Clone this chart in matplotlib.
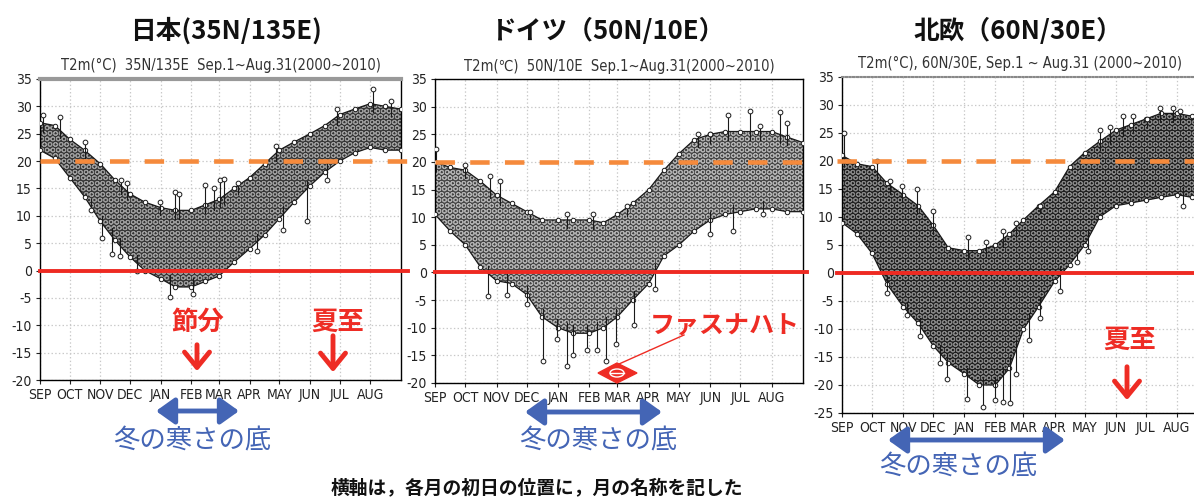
import numpy as np
import matplotlib
matplotlib.use('Agg')
import matplotlib.pyplot as plt
from matplotlib.patches import Polygon, Ellipse

plt.rcParams['font.family'] = ['Noto Sans CJK JP', 'DejaVu Sans']
plt.rcParams['lines.scale_dashes'] = False
plt.rcParams['hatch.linewidth'] = 0.7

NARROW = dict(family='DejaVu Sans', stretch='condensed')

# days counted from Sep.1, month starts and mid-months
days = [0, 15, 30, 45, 61, 76, 91, 106, 122, 137, 153, 167, 181,
        196, 212, 227, 242, 257, 273, 288, 303, 318, 334, 349, 365]
month_start = [0, 30, 61, 91, 122, 153, 181, 212, 242, 273, 303, 334]
month_names = ['SEP', 'OCT', 'NOV', 'DEC', 'JAN', 'FEB', 'MAR', 'APR',
               'MAY', 'JUN', 'JUL', 'AUG']

# 日本 35N/135E : upper / lower edge of the daily T2m cloud
jp_hi = [27, 26.5, 24, 22, 19.5, 16.5, 14, 12.5, 11.5, 11, 11, 12, 13,
         15, 17, 19.5, 22, 23.5, 25, 26.5, 28.5, 29.5, 30.5, 30, 29.5]
jp_lo = [22, 20.5, 17, 13.5, 9, 5.5, 2.5, 0, -1.5, -3, -3, -2, -1,
         1.5, 4, 6.5, 9.5, 12.5, 15.5, 18, 20, 21.5, 22.5, 22, 22]
jp_up = [(3, 28.5), (20, 28), (45, 23.5), (82, 16.5), (88, 16), (121, 12.6),
         (137, 14.3), (141, 14), (167, 15.6), (176, 15), (182, 16.6),
         (186, 16.7), (200, 16), (239, 22.8), (300, 29.5), (337, 33.2),
         (355, 31)]
jp_dn = [(52, 11), (63, 6), (73, 3), (81, 2.6), (98, 0), (131, -4.9),
         (155, -4.2), (219, 3.6), (246, 7.5), (270, 9), (290, 16.5)]

# ドイツ 50N/10E
de_hi = [20, 19, 18.5, 16.5, 14, 12.5, 11, 9.5, 9.5, 9.5, 9.5, 9, 10.5,
         12.5, 15, 18.5, 21.5, 24, 25, 25.5, 25.5, 25.5, 25.5, 24.5, 23.5]
de_lo = [10.5, 7.5, 5, 1, -1.5, -2, -4, -8, -10, -11, -11, -10, -8,
         -5, -2, 3, 5, 7.5, 9.5, 10.5, 11, 11.5, 11.5, 11, 11]
de_up = [(1, 22.4), (30, 19.5), (55, 17.5), (64, 16.5), (94, 11), (131, 10.5),
         (157, 10.5), (190, 12), (261, 25), (273, 25), (291, 28.4),
         (312, 29.2), (322, 26.5), (342, 29), (349, 27)]
de_dn = [(53, -4.3), (71, -4), (91, -5.7), (107, -16), (121, -12), (131, -17),
         (137, -15), (151, -14), (161, -14), (170, -16), (180, -13),
         (197, -9.5), (218, -3), (273, 7), (296, 7.5), (325, 10.5)]

# 北欧 60N/30E
no_hi = [21, 19.5, 19, 16, 14, 12, 8.5, 4.5, 4, 4, 5, 7, 9.5,
         12, 14.5, 19, 21.5, 23.5, 25.5, 26.5, 27.5, 28.5, 28.5, 28, 27.5]
no_lo = [9, 7, 3.5, -2, -6, -9, -13, -16, -18, -20, -20, -17, -10,
         -6, -1.5, 1.5, 5, 10, 12, 12.5, 13, 13.5, 14, 13.5, 13]
no_up = [(2, 25), (35, 20), (48, 16.5), (60, 15.5), (75, 15), (91, 11),
         (126, 6.5), (144, 5.5), (161, 7.5), (174, 9), (197, 12),
         (257, 25.5), (267, 26), (280, 28), (290, 28), (304, 27.5),
         (317, 29.5), (330, 29.5), (337, 29)]
no_dn = [(45, -3.5), (65, -7.5), (78, -11.3), (98, -16), (105, -19),
         (125, -22.5), (141, -24), (153, -22.7), (161, -23), (168, -23.3),
         (174, -18), (186, -12), (197, -8), (217, -3.3), (234, 2),
         (245, 4), (340, 12)]

W, H = 1194, 500
fig = plt.figure(figsize=(W / 100, H / 100), dpi=100)


def box(left, right, top, bottom):
    return [left / W, 1 - bottom / H, (right - left) / W, (bottom - top) / H]


def draw_panel(ax, hi, lo, ups, dns, face, dots, ymin):
    ax.set_xlim(0, 365)
    ax.set_ylim(ymin, 35)
    ax.set_xticks(month_start)
    ax.set_xticklabels(month_names, **NARROW)
    yt = np.arange(ymin, 36, 5)
    ax.set_yticks(yt)
    ax.set_yticklabels([str(v) for v in yt], **NARROW)
    ax.grid(True, color='#c8c8c8', linestyle=':', linewidth=0.9)
    ax.set_axisbelow(True)
    ax.tick_params(direction='out', length=3, width=0.8, labelsize=10,
                   pad=3, colors='#222222')
    for s in ax.spines.values():
        s.set_linewidth(1.0)

    ax.fill_between(days, lo, hi, facecolor=face, edgecolor=dots,
                    hatch='OOO', linewidth=0, zorder=2)
    for edge in (hi, lo):
        ax.plot(days, edge, '-o', color='#1a1a1a', lw=0.9, ms=3.2,
                mfc='white', mec='#1a1a1a', mew=0.7, zorder=3)
    for d, v in ups:
        base = np.interp(d, days, hi)
        ax.plot([d, d], [base - 1.5, v], '-', color='#1a1a1a', lw=0.8, zorder=3)
        ax.plot(d, v, 'o', ms=3.4, mfc='white', mec='#1a1a1a', mew=0.7, zorder=3)
    for d, v in dns:
        base = np.interp(d, days, lo)
        ax.plot([d, d], [base + 1.5, v], '-', color='#1a1a1a', lw=0.8, zorder=3)
        ax.plot(d, v, 'o', ms=3.4, mfc='white', mec='#1a1a1a', mew=0.7, zorder=3)


def ref_lines(ax, x0, x1):
    ax.axhline(20, xmin=x0, xmax=x1, color='#f58a3c', lw=3.3,
               dashes=(14, 11), clip_on=False, zorder=5)
    ax.axhline(0, xmin=x0, xmax=x1, color='#ee2a22', lw=2.8,
               clip_on=False, zorder=5)


ax1 = fig.add_axes(box(40, 401, 79, 380))
draw_panel(ax1, jp_hi, jp_lo, jp_up, jp_dn, '#353535', '#9c9c9c', -20)
ax1.spines['top'].set_color('#999999')
ax1.spines['top'].set_linewidth(3)
ref_lines(ax1, 0.0, 1.02)

ax2 = fig.add_axes(box(435, 803, 79, 383))
draw_panel(ax2, de_hi, de_lo, de_up, de_dn, '#444444', '#b0b0b0', -20)
ref_lines(ax2, 0.0, 1.01)

ax3 = fig.add_axes(box(842, 1208, 77, 413))
draw_panel(ax3, no_hi, no_lo, no_up, no_dn, '#1e1e1e', '#858585', -25)
ax3.spines['top'].set_color('#888888')
ax3.spines['top'].set_linestyle(':')
ax3.spines['top'].set_linewidth(1.5)
ref_lines(ax3, -0.015, 1.0)

# titles and subtitles
titles = ['日本(35N/135E)', 'ドイツ（50N/10E）', '北欧（60N/30E）']
title_x = [226, 608, 1018]
subtitles = ['T2m(°C)  35N/135E  Sep.1~Aug.31(2000~2010)',
             'T2m(℃)  50N/10E  Sep.1~Aug.31(2000~2010)',
             'T2m(°C), 60N/30E, Sep.1 ~ Aug.31 (2000~2010)']
sub_x = [221, 619, 1020]
sub_y = [65, 66, 63]

ov = fig.add_axes([0, 0, 1, 1], zorder=10)
ov.set_xlim(0, W)
ov.set_ylim(H, 0)
ov.axis('off')
ov.patch.set_alpha(0)

for t, x in zip(titles, title_x):
    ov.text(x, 31, t, ha='center', va='center', fontsize=18.5,
            fontweight='bold', color='#111111')
for t, x, y in zip(subtitles, sub_x, sub_y):
    ov.text(x, y, t, ha='center', va='center', fontsize=10.5,
            color='#333333', **NARROW)

RED = '#ee2c24'
BLUE = '#4465b5'
red_arrow = dict(arrowstyle='->, head_length=0.55, head_width=0.45',
                 color=RED, lw=3.5, mutation_scale=20)

# red markers inside the panels
ov.text(198, 322, '節分', ha='center', va='center', fontsize=19,
        fontweight='bold', color=RED)
ov.annotate('', xy=(197, 374), xytext=(197, 342), arrowprops=red_arrow)
ov.text(338, 322, '夏至', ha='center', va='center', fontsize=19,
        fontweight='bold', color=RED)
ov.annotate('', xy=(333, 375), xytext=(333, 333), arrowprops=red_arrow)
ov.text(1130, 340, '夏至', ha='center', va='center', fontsize=19,
        fontweight='bold', color=RED)
ov.annotate('', xy=(1127, 403), xytext=(1127, 364), arrowprops=red_arrow)

ov.text(725, 327, 'ファスナハト', ha='center', va='center', fontsize=18,
        fontweight='bold', color=RED)
ov.plot([619, 684], [364, 335], color=RED, lw=1.0)
ov.add_patch(Polygon([(598, 373), (617, 363), (637, 373), (617, 383)],
                     closed=True, facecolor=RED, edgecolor=RED))
ov.add_patch(Ellipse((617, 373), 14, 8, facecolor='none', edgecolor='white', lw=1.0))
ov.plot([610, 624], [373, 373], color='white', lw=1.0)

# cold-season arrows below the panels
for x0, x1, y, tx, ty in [(156, 239, 411, 192, 441),
                          (525, 662, 412, 598, 441),
                          (888, 1065, 440, 958, 467)]:
    ov.annotate('', xy=(x1, y), xytext=(x0, y),
                arrowprops=dict(arrowstyle='<|-|>, head_length=0.7, head_width=0.5',
                                color=BLUE, lw=3.5, mutation_scale=16,
                                shrinkA=0, shrinkB=0))
    ov.text(tx, ty, '冬の寒さの底', ha='center', va='center', fontsize=19,
            color=BLUE)

ov.text(537, 488, '横軸は，各月の初日の位置に，月の名称を記した', ha='center',
        va='center', fontsize=13.5, fontweight='bold', color='#111111')

fig.savefig('out.png', dpi=100)
